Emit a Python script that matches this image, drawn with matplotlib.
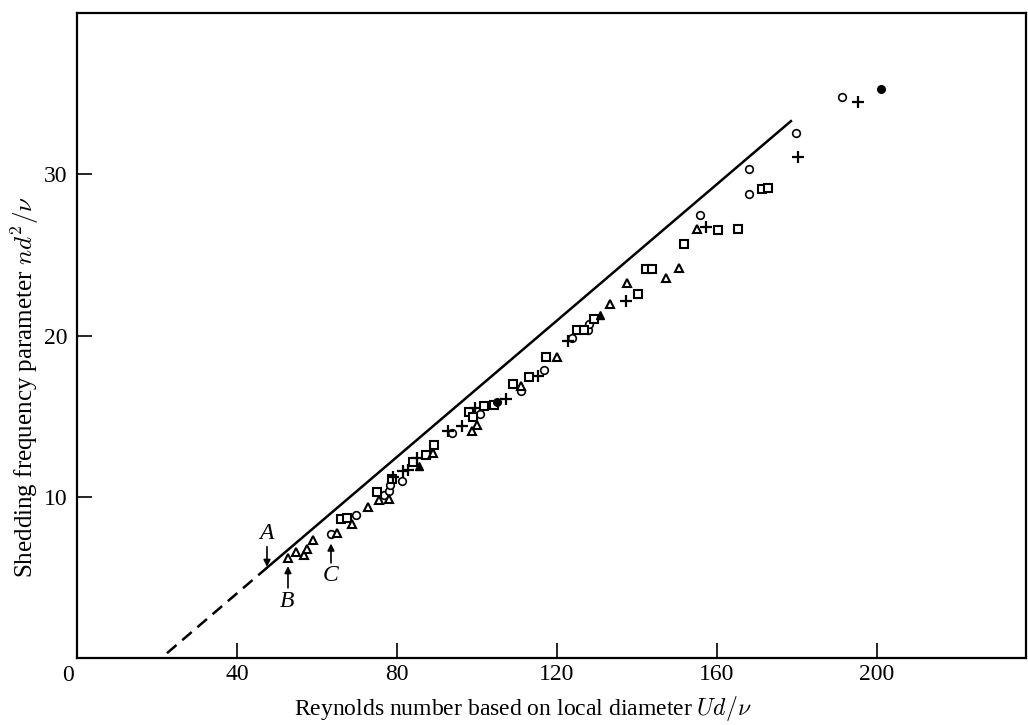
import numpy as np
import matplotlib
matplotlib.use("Agg")
import matplotlib.pyplot as plt

plt.rcParams['font.family'] = ['Liberation Serif', 'DejaVu Serif']
plt.rcParams['mathtext.fontset'] = 'cm'

# data (Re, shedding frequency parameter)
circ_x = [63.5, 69.75, 76.8, 78.1, 78.25, 81.3, 93.75, 100.75, 110.9, 116.75, 123.7, 127.8,
          128.0, 155.75, 168.0, 168.0, 179.7, 191.2]
circ_y = [7.68, 8.88, 10.08, 10.37, 10.75, 10.95, 13.96, 15.13, 16.58, 17.89, 19.86, 20.33,
          20.72, 27.47, 28.76, 30.35, 32.55, 34.8]

sq_x = [65.9, 67.4, 74.9, 78.8, 83.9, 87.25, 89.2, 98.1, 98.9, 101.75, 104.25, 109.1, 112.9,
        117.25, 124.9, 126.8, 129.25, 140.3, 142.25, 143.7, 151.8, 160.3, 165.2, 171.2, 172.7]
sq_y = [8.63, 8.67, 10.27, 11.12, 12.13, 12.6, 13.2, 15.26, 14.95, 15.65, 15.71, 17.02, 17.41,
        18.65, 20.33, 20.37, 21.03, 22.55, 24.1, 24.1, 25.65, 26.54, 26.58, 29.07, 29.17]

tri_x = [52.8, 54.75, 56.75, 57.4, 59.1, 65.1, 68.75, 72.8, 75.6, 78.0, 89.1, 98.7, 99.9,
         111.0, 119.9, 133.25, 137.6, 147.2, 150.4, 155.1]
tri_y = [6.19, 6.6, 6.4, 6.75, 7.33, 7.78, 8.32, 9.36, 9.77, 9.88, 12.7, 14.06, 14.43,
         16.9, 18.65, 21.93, 23.23, 23.58, 24.16, 26.58]

plus_x = [79.0, 81.6, 82.8, 84.9, 92.8, 96.3, 99.5, 107.25, 115.3, 122.8, 137.2, 157.25,
          180.3, 195.2]
plus_y = [11.2, 11.57, 11.68, 12.4, 14.1, 14.37, 15.5, 16.07, 17.47, 19.69, 22.17, 26.73,
          31.07, 34.5]

fcirc_x = [104.9, 201.0]
fcirc_y = [15.86, 35.28]
ftri_x = [85.4, 130.75]
ftri_y = [11.93, 21.3]

# fitted line: dashed extrapolation, then solid
dash_x = [22.5, 47.5]
dash_y = [0.3, 5.6]
line_x = [47.5, 178.5]
line_y = [5.6, 33.3]

fig = plt.figure(figsize=(10.28, 7.25), dpi=100)
ax = fig.add_axes([0.0749, 0.0924, 0.9231, 0.8896])

ax.plot(dash_x, dash_y, color='black', lw=1.8, ls=(0, (5, 3)))
ax.plot(line_x, line_y, color='black', lw=1.8)

ms = 5.5
ax.plot(circ_x, circ_y, 'o', ms=ms, mfc='white', mec='black', mew=1.2, ls='none')
ax.plot(sq_x, sq_y, 's', ms=ms, mfc='white', mec='black', mew=1.5, ls='none')
ax.plot(tri_x, tri_y, '^', ms=ms, mfc='white', mec='black', mew=1.5, ls='none')
ax.plot(plus_x, plus_y, '+', ms=9, mec='black', mew=1.6, ls='none')
ax.plot(fcirc_x, fcirc_y, 'o', ms=ms, color='black', ls='none')
ax.plot(ftri_x, ftri_y, '^', ms=ms, color='black', ls='none')

ax.set_xlim(0, 237.25)
ax.set_ylim(0, 40)
ax.set_xticks([40, 80, 120, 160, 200])
ax.set_yticks([10, 20, 30])
ax.tick_params(direction='in', length=11, width=1.2, labelsize=17, pad=4)
ax.tick_params(axis='y', pad=7)
for s in ax.spines.values():
    s.set_linewidth(1.6)
ax.text(-2.3, -0.45, '0', ha='center', va='top', fontsize=17)

ax.set_xlabel(r'Reynolds number based on local diameter $Ud/\nu$', fontsize=17)
ax.xaxis.set_label_coords(0.47, -0.056)
ax.set_ylabel(r'Shedding frequency parameter $nd^{2}/\nu$', fontsize=18)
ax.yaxis.set_label_coords(-0.038, 0.42)

arr = dict(arrowstyle='-|>', color='black', lw=1.2, mutation_scale=10, shrinkA=0, shrinkB=0)
ax.annotate('', xy=(47.5, 5.65), xytext=(47.5, 6.9), arrowprops=arr)
ax.text(47.4, 7.1, 'A', style='italic', fontsize=17, ha='center', va='bottom')
ax.annotate('', xy=(52.75, 5.7), xytext=(52.75, 4.35), arrowprops=arr)
ax.text(52.6, 4.15, 'B', style='italic', fontsize=17, ha='center', va='top')
ax.annotate('', xy=(63.5, 7.1), xytext=(63.5, 5.9), arrowprops=arr)
ax.text(63.3, 5.75, 'C', style='italic', fontsize=17, ha='center', va='top')

fig.savefig('out.png', dpi=100)
